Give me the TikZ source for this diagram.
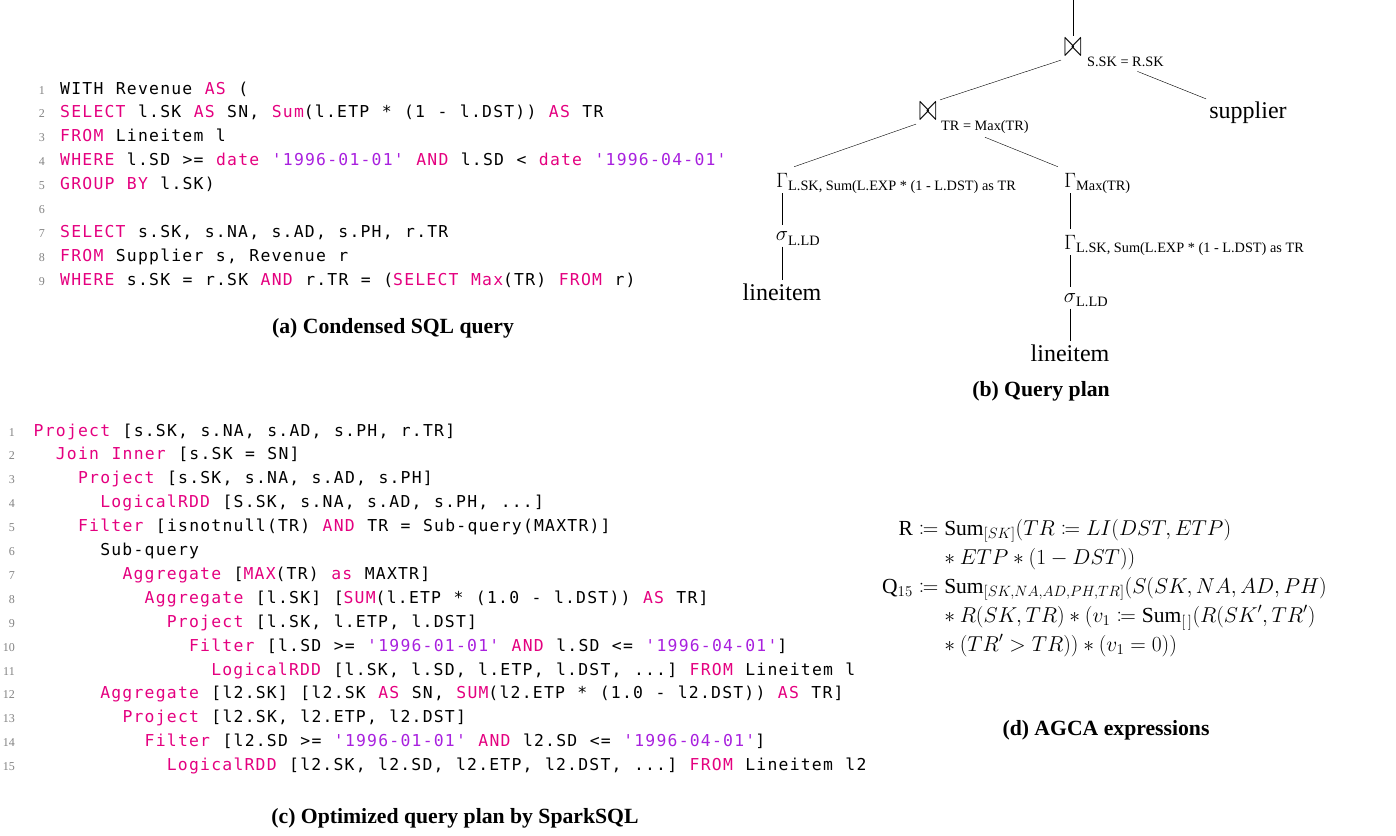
\documentclass[tikz,border=0pt]{standalone}
\usepackage{fontspec}
\usepackage{mathtools}
\usepackage{graphicx}
\setmainfont{Liberation Serif}
\setmonofont[LetterSpace=7.5,WordSpace=1.125]{DejaVu Sans Mono}
\usetikzlibrary{calc}

\definecolor{kwmagenta}{RGB}{228,0,127}
\definecolor{strpurple}{RGB}{168,32,222}
\definecolor{lngray}{RGB}{130,130,130}
\newcommand{\sqlkw}[1]{\textcolor{kwmagenta}{#1}}
\newcommand{\sqlstr}[1]{\textcolor{strpurple}{#1}}
\newcommand{\joinsym}{\scalebox{1.05}[1.85]{$\bowtie$}}

\tikzset{
  sqlline/.style={anchor=base west, inner sep=0pt, font=\ttfamily\fontsize{16.4}{20}\selectfont},
  lnum/.style={anchor=base east, inner sep=0pt, text=lngray, font=\fontsize{12}{14}\selectfont},
  subcap/.style={anchor=base, inner sep=0pt, font=\bfseries\fontsize{21.7}{26}\selectfont},
  op/.style={inner sep=6pt, font=\fontsize{22}{26}\selectfont},
  opsub/.style={anchor=base west, inner sep=0pt, font=\fontsize{14.3}{17}\selectfont},
  rel/.style={inner sep=3pt, font=\fontsize{24}{28}\selectfont}
}

\begin{document}
\begin{tikzpicture}[x=1pt,y=1pt,yscale=-1]
\useasboundingbox (0,0) rectangle (1396,835);

% (a) condensed query
\foreach \n in {1,...,9}
  \node[lnum] (na\n) at (45,{94+23.9*(\n-1)}) {\n};
\node[sqlline] (a1) at (60,94) {WITH Revenue \sqlkw{AS} (};
\node[sqlline] (a2) at (60,117.9) {\sqlkw{SELECT} l.SK \sqlkw{AS} SN, \sqlkw{Sum}(l.ETP * (1 - l.DST)) \sqlkw{AS} TR};
\node[sqlline] (a3) at (60,141.8) {\sqlkw{FROM} Lineitem l};
\node[sqlline] (a4) at (60,165.7) {\sqlkw{WHERE} l.SD >= \sqlkw{date} \sqlstr{'1996-01-01'} \sqlkw{AND} l.SD < \sqlkw{date} \sqlstr{'1996-04-01'}};
\node[sqlline] (a5) at (60,189.6) {\sqlkw{GROUP BY} l.SK)};
\node[sqlline] (a7) at (60,237.4) {\sqlkw{SELECT} s.SK, s.NA, s.AD, s.PH, r.TR};
\node[sqlline] (a8) at (60,261.3) {\sqlkw{FROM} Supplier s, Revenue r};
\node[sqlline] (a9) at (60,285.2) {\sqlkw{WHERE} s.SK = r.SK \sqlkw{AND} r.TR = (\sqlkw{SELECT} \sqlkw{Max}(TR) \sqlkw{FROM} r)};
% Text Node
\node[subcap] (capa) at (393,333) {(a) Condensed SQL query};

% (b) query plan
\coordinate (top) at (1073,0);
\node[op, inner sep=3pt] (j1) at (1073,48) {\joinsym};
\node[opsub] (j1s) at (1087,66) {S.SK = R.SK};
\node[rel] (sup) at (1248,113) {supplier};
\node[op, inner sep=3pt] (j2) at (928,112) {\joinsym};
\node[opsub] (j2s) at (941,130) {TR = Max(TR)};
\node[op] (g1) at (782,180) {$\Gamma$};
\node[opsub] (g1s) at (788,190) {L.SK, Sum(L.EXP * (1 - L.DST) as TR};
\node[op] (s1) at (782,236) {$\sigma$};
\node[opsub] (s1s) at (788,245) {L.LD};
\node[rel] (li1) at (782,292) {lineitem};
\node[op] (g2) at (1070,180) {$\Gamma$};
\node[opsub] (g2s) at (1076,190) {Max(TR)};
\node[op] (g3) at (1070,242) {$\Gamma$};
\node[opsub] (g3s) at (1076,252) {L.SK, Sum(L.EXP * (1 - L.DST) as TR};
\node[op] (s2) at (1070,298) {$\sigma$};
\node[opsub] (s2s) at (1076,306) {L.LD};
\node[rel] (li2) at (1070,353) {lineitem};
%Straight Lines
\draw (top) -- (j1);
\draw (j1.south west) -- (j2.north east);
\draw ($(j1s.south)+(12,5)$) -- (sup.north west);
\draw (j2.south west) -- (g1.north east);
\draw ($(j2s.south)+(0,4)$) -- (g2.north west);
\draw (g1) -- (s1);
\draw (s1) -- (li1);
\draw (g2) -- (g3);
\draw (g3) -- (s2);
\draw (s2) -- (li2);
% Text Node
\node[subcap] (capb) at (1041,396) {(b) Query plan};

% (c) optimized plan
\foreach \n in {1,...,15}
  \node[lnum] (nc\n) at (15,{436+23.9*(\n-1)}) {\n};
\node[sqlline] (c1) at (33.5,436) {\sqlkw{Project} [s.SK, s.NA, s.AD, s.PH, r.TR]};
\node[sqlline] (c2) at (55.7,459.9) {\sqlkw{Join Inner} [s.SK = SN]};
\node[sqlline] (c3) at (77.9,483.8) {\sqlkw{Project} [s.SK, s.NA, s.AD, s.PH]};
\node[sqlline] (c4) at (100.1,507.7) {\sqlkw{LogicalRDD} [S.SK, s.NA, s.AD, s.PH, ...]};
\node[sqlline] (c5) at (77.9,531.6) {\sqlkw{Filter} [isnotnull(TR) \sqlkw{AND} TR = Sub-query(MAXTR)]};
\node[sqlline] (c6) at (100.1,555.5) {Sub-query};
\node[sqlline] (c7) at (122.3,579.4) {\sqlkw{Aggregate} [\sqlkw{MAX}(TR) \sqlkw{as} MAXTR]};
\node[sqlline] (c8) at (144.5,603.3) {\sqlkw{Aggregate} [l.SK] [\sqlkw{SUM}(l.ETP * (1.0 - l.DST)) \sqlkw{AS} TR]};
\node[sqlline] (c9) at (166.7,627.2) {\sqlkw{Project} [l.SK, l.ETP, l.DST]};
\node[sqlline] (c10) at (188.9,651.1) {\sqlkw{Filter} [l.SD >= \sqlstr{'1996-01-01'} \sqlkw{AND} l.SD <= \sqlstr{'1996-04-01'}]};
\node[sqlline] (c11) at (211.1,675) {\sqlkw{LogicalRDD} [l.SK, l.SD, l.ETP, l.DST, ...] \sqlkw{FROM} Lineitem l};
\node[sqlline] (c12) at (100.1,698.9) {\sqlkw{Aggregate} [l2.SK] [l2.SK \sqlkw{AS} SN, \sqlkw{SUM}(l2.ETP * (1.0 - l2.DST)) \sqlkw{AS} TR]};
\node[sqlline] (c13) at (122.3,722.8) {\sqlkw{Project} [l2.SK, l2.ETP, l2.DST]};
\node[sqlline] (c14) at (144.5,746.7) {\sqlkw{Filter} [l2.SD >= \sqlstr{'1996-01-01'} \sqlkw{AND} l2.SD <= \sqlstr{'1996-04-01'}]};
\node[sqlline] (c15) at (166.7,770.6) {\sqlkw{LogicalRDD} [l2.SK, l2.SD, l2.ETP, l2.DST, ...] \sqlkw{FROM} Lineitem l2};
% Text Node
\node[subcap] (capc) at (455,823) {(c) Optimized query plan by SparkSQL};

% (d) AGCA
\node[anchor=west, inner sep=0pt, font=\fontsize{20.74}{25}\selectfont] (agca) at (882,588) {\scalebox{1.037}{$\begin{aligned}
\mathrm{R} &\coloneqq \mathrm{Sum}_{[SK]}(TR \coloneqq LI(DST, ETP)\\
&\hphantom{{}\coloneqq{}}\mathord{\ast}\mskip\medmuskip ETP \ast (1 - DST))\\
\mathrm{Q}_{15} &\coloneqq \mathrm{Sum}_{[SK,NA,AD,PH,TR]}(S(SK, NA, AD, PH)\\
&\hphantom{{}\coloneqq{}}\mathord{\ast}\mskip\medmuskip R(SK, TR) \ast (v_1 \coloneqq \mathrm{Sum}_{[\,]}(R(SK', TR')\\
&\hphantom{{}\coloneqq{}}\mathord{\ast}\mskip\medmuskip (TR' > TR)) \ast (v_1 = 0))
\end{aligned}$}};
% Text Node
\node[subcap] (capd) at (1106,735) {(d) AGCA expressions};

\end{tikzpicture}
\end{document}
